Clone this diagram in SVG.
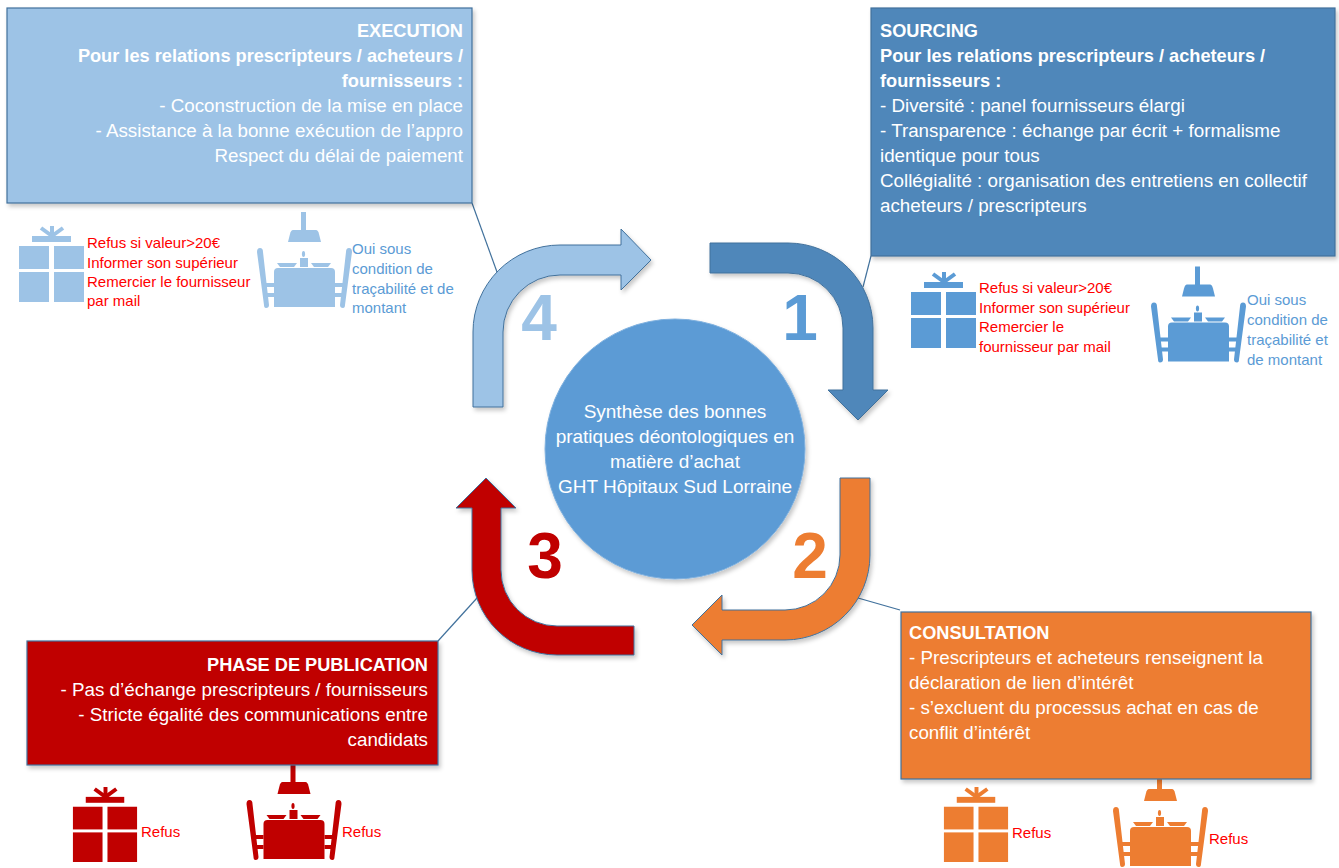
<svg xmlns="http://www.w3.org/2000/svg" xmlns:xlink="http://www.w3.org/1999/xlink" width="1339" height="868" viewBox="0 0 1339 868">
<defs>
<style>
.box{stroke:#41719C;stroke-width:1.2}
.bt{font-family:"Liberation Sans",Arial,sans-serif;font-size:18.8px;fill:#FFFFFF}
.b{font-weight:bold;font-size:18.2px}
.ct{font-family:"Liberation Sans",Arial,sans-serif;font-size:19px;fill:#FFFFFF;text-anchor:middle}
.num{font-family:"Liberation Sans",Arial,sans-serif;font-size:64px;font-weight:bold;text-anchor:middle}
.red{font-family:"Liberation Sans",Arial,sans-serif;font-size:15px;fill:#FF0000}
.blu{font-family:"Liberation Sans",Arial,sans-serif;font-size:15px;fill:#5B9BD5}
.arr{stroke:#41719C;stroke-width:1}
.con{fill:none;stroke:#41719C;stroke-width:1.2}
</style>
<filter id="sh" x="-10%" y="-10%" width="125%" height="130%">
<feDropShadow dx="2" dy="3" stdDeviation="2" flood-color="#000" flood-opacity="0.22"/>
</filter>
<symbol id="gift" viewBox="0 0 65 76">
<g fill="currentColor" stroke="none">
<rect x="0" y="20" width="30" height="23"/>
<rect x="35" y="20" width="30" height="23"/>
<rect x="0" y="46" width="30" height="30"/>
<rect x="35" y="46" width="30" height="30"/>
<rect x="13" y="10" width="39" height="6"/>
<rect x="31" y="0" width="4" height="11"/>
</g>
<g stroke="currentColor" stroke-width="4" fill="none">
<line x1="33" y1="10" x2="22" y2="2"/>
<line x1="33" y1="10" x2="44" y2="2"/>
</g>
</symbol>
<symbol id="table" viewBox="0 0 95 96">
<g fill="currentColor" stroke="none">
<rect x="44" y="0" width="5" height="19"/>
<path d="M36,18 L59,18 Q61,18 62,22 L64,30 L31,30 L33,22 Q34,18 36,18 Z"/>
<ellipse cx="46.5" cy="42" rx="1.6" ry="3"/>
<rect x="43" y="46" width="8" height="9"/>
<path d="M20,51 L40,51 L37,55 L23,55 Z"/>
<path d="M54,51 L74,51 L71,55 L57,55 Z"/>
<path d="M21,56 L74,56 Q78,56 78,60 L78,95 L17,95 L17,60 Q17,56 21,56 Z"/>
<path d="M0,40 Q0,36 3,36 Q6,36 6,40 L12,93 Q12,96 9,96 Q7,96 7,93 Z"/>
<rect x="9" y="71" width="8" height="4"/>
<rect x="10" y="81" width="7" height="4"/>
<path d="M95,40 Q95,36 92,36 Q89,36 89,40 L83,93 Q83,96 86,96 Q88,96 88,93 Z"/>
<rect x="78" y="71" width="8" height="4"/>
<rect x="78" y="81" width="7" height="4"/>
</g>
</symbol>
</defs>
<rect width="1339" height="868" fill="#FFFFFF"/>

<g id="connectors">
<line class="con" x1="472" y1="203" x2="497" y2="272"/>
<line class="con" x1="871" y1="256" x2="863" y2="287"/>
<line class="con" x1="900" y1="610" x2="858" y2="598"/>
<line class="con" x1="438" y1="641" x2="477" y2="598"/>
</g>

<g id="arrow4">
<path class="arr" filter="url(#sh)" fill="#9DC3E6" d="M473,407 L473,332 A87,87 0 0 1 560,245 L621,245 L621,229 L651,260 L621,290 L621,275 L560,275 A57,57 0 0 0 503,332 L503,407 Z"/>
<text class="num" x="539" y="340" fill="#9DC3E6">4</text>
</g>
<g id="arrow1">
<path class="arr" filter="url(#sh)" fill="#4F87BA" d="M710,243 L788,243 A85,85 0 0 1 873,328 L873,390 L888,390 L858,420 L828,390 L843,390 L843,328 A55,55 0 0 0 788,273 L710,273 Z"/>
<text class="num" x="800" y="340" fill="#5B9BD5">1</text>
</g>
<g id="arrow2">
<path class="arr" filter="url(#sh)" fill="#ED7D31" d="M840,478 L870,478 L870,555 A85,85 0 0 1 785,640 L722,640 L722,655 L692,625 L722,595 L722,610 L785,610 A55,55 0 0 0 840,555 Z"/>
<text class="num" x="810" y="578" fill="#ED7D31">2</text>
</g>
<g id="arrow3">
<path class="arr" filter="url(#sh)" fill="#C00000" d="M634,626 L634,655 L557,655 A85,85 0 0 1 472,570 L472,508 L456,508 L486,478 L516,508 L501,508 L501,570 A56,56 0 0 0 557,626 Z"/>
<text class="num" x="545" y="578" fill="#C00000">3</text>
</g>

<g id="center">
<circle cx="675" cy="449" r="130" fill="#5B9BD5" stroke="#7FB0DE" stroke-width="1" filter="url(#sh)"/>
<text class="ct" x="675" y="418">Synthèse des bonnes</text>
<text class="ct" x="675" y="443">pratiques déontologiques en</text>
<text class="ct" x="675" y="468">matière d’achat</text>
<text class="ct" x="675" y="493">GHT Hôpitaux Sud Lorraine</text>
</g>

<g id="execution">
<rect class="box" filter="url(#sh)" x="7" y="8" width="465" height="195" fill="#9DC3E6"/>
<g text-anchor="end">
<text class="bt b" x="463" y="37">EXECUTION</text>
<text class="bt b" x="463" y="62">Pour les relations prescripteurs / acheteurs /</text>
<text class="bt b" x="463" y="87">fournisseurs :</text>
<text class="bt" x="463" y="112">- Coconstruction de la mise en place</text>
<text class="bt" x="463" y="137">- Assistance à la bonne exécution de l’appro</text>
<text class="bt" x="463" y="162">Respect du délai de paiement</text>
</g>
</g>
<g id="execution-icons">
<use href="#gift" xlink:href="#gift" x="19" y="226" width="65" height="76" color="#9DC3E6"/>
<text class="red" x="87" y="248">Refus si valeur&gt;20€</text>
<text class="red" x="87" y="268">Informer son supérieur</text>
<text class="red" x="87" y="287">Remercier le fournisseur</text>
<text class="red" x="87" y="306">par mail</text>
<use href="#table" xlink:href="#table" x="257" y="212" width="95" height="96" color="#9DC3E6"/>
<text class="blu" x="352" y="254">Oui sous</text>
<text class="blu" x="352" y="274">condition de</text>
<text class="blu" x="352" y="294">traçabilité et de</text>
<text class="blu" x="352" y="313">montant</text>
</g>

<g id="sourcing">
<rect class="box" filter="url(#sh)" x="871" y="8" width="464" height="248" fill="#4F87BA"/>
<text class="bt b" x="880" y="37">SOURCING</text>
<text class="bt b" x="880" y="62">Pour les relations prescripteurs / acheteurs /</text>
<text class="bt b" x="880" y="87">fournisseurs :</text>
<text class="bt" x="880" y="112">- Diversité : panel fournisseurs élargi</text>
<text class="bt" x="880" y="137">- Transparence : échange par écrit + formalisme</text>
<text class="bt" x="880" y="162">identique pour tous</text>
<text class="bt" x="880" y="187">Collégialité : organisation des entretiens en collectif</text>
<text class="bt" x="880" y="212">acheteurs / prescripteurs</text>
</g>
<g id="sourcing-icons">
<use href="#gift" xlink:href="#gift" x="911" y="272" width="65" height="76" color="#5B9BD5"/>
<text class="red" x="979" y="293">Refus si valeur&gt;20€</text>
<text class="red" x="979" y="313">Informer son supérieur</text>
<text class="red" x="979" y="332">Remercier le</text>
<text class="red" x="979" y="352">fournisseur par mail</text>
<use href="#table" xlink:href="#table" x="1151" y="266" width="95" height="97" color="#5B9BD5"/>
<text class="blu" x="1247" y="305">Oui sous</text>
<text class="blu" x="1247" y="325">condition de</text>
<text class="blu" x="1247" y="345">traçabilité et</text>
<text class="blu" x="1247" y="365">de montant</text>
</g>

<g id="publication-icons">
<use href="#gift" xlink:href="#gift" x="72" y="787" width="66" height="75" color="#C00000"/>
<text class="red" x="141" y="837">Refus</text>
<use href="#table" xlink:href="#table" x="246" y="764" width="96" height="96" color="#C00000"/>
<text class="red" x="342" y="837">Refus</text>
</g>
<g id="publication">
<rect class="box" filter="url(#sh)" x="27" y="641" width="411" height="124" fill="#C00000"/>
<g text-anchor="end">
<text class="bt b" x="428" y="671">PHASE DE PUBLICATION</text>
<text class="bt" x="428" y="696">- Pas d’échange prescripteurs / fournisseurs</text>
<text class="bt" x="428" y="721">- Stricte égalité des communications entre</text>
<text class="bt" x="428" y="746">candidats</text>
</g>
</g>

<g id="consultation-icons">
<use href="#gift" xlink:href="#gift" x="943" y="787" width="66" height="75" color="#ED7D31"/>
<text class="red" x="1012" y="838">Refus</text>
<use href="#table" xlink:href="#table" x="1113" y="771" width="95" height="96" color="#ED7D31"/>
<text class="red" x="1209" y="844">Refus</text>
</g>
<g id="consultation">
<rect class="box" filter="url(#sh)" x="901" y="612" width="410" height="167" fill="#ED7D31"/>
<text class="bt b" x="909" y="639">CONSULTATION</text>
<text class="bt" x="909" y="664">- Prescripteurs et acheteurs renseignent la</text>
<text class="bt" x="909" y="689">déclaration de lien d’intérêt</text>
<text class="bt" x="909" y="714">- s’excluent du processus achat en cas de</text>
<text class="bt" x="909" y="739">conflit d’intérêt</text>
</g>
</svg>
